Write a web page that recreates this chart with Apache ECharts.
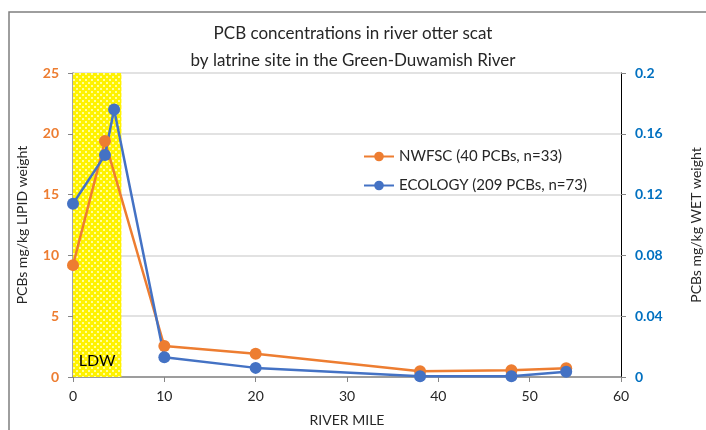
<!DOCTYPE html>
<html>
<head>
<meta charset="utf-8">
<script src="https://cdn.jsdelivr.net/npm/echarts@6/dist/echarts.min.js"></script>
<style>
  html, body { margin: 0; padding: 0; background: #fff; }
  #main { width: 706px; height: 430px; }
</style>
</head>
<body>
<div id="main"></div>
<script>
// river mile of each latrine site
var nwfscMiles = [0, 3.5, 10, 20, 38, 48, 54];
var nwfscLipid = [9.2, 19.4, 2.55, 1.92, 0.47, 0.55, 0.72];   // mg/kg lipid weight

var ecologyMiles = [0, 3.5, 4.5, 10, 20, 38, 48, 54];
var ecologyWet = [0.114, 0.146, 0.176, 0.013, 0.006, 0.0005, 0.0005, 0.0035]; // mg/kg wet weight

var ldwRange = [0, 5.3];

var ORANGE = '#ED7D31';
var BLUE = '#4472C4';
var FONT = 'Lato, "Open Sans", sans-serif';

function zip(a, b) {
  return a.map(function (v, i) { return [v, b[i]]; });
}

// checkered yellow fill like the excel pattern
function yellowPattern() {
  var c = document.createElement('canvas');
  c.width = 6; c.height = 6;
  var ctx = c.getContext('2d');
  ctx.fillStyle = '#FFF200';
  ctx.fillRect(0, 0, 6, 6);
  ctx.fillStyle = '#FFFF9A';
  ctx.fillRect(1, 1, 2, 2);
  ctx.fillRect(4, 4, 2, 2);
  return c;
}

var chart = echarts.init(document.getElementById('main'));

var option = {
  animation: false,
  backgroundColor: '#fff',
  graphic: [{
    type: 'rect',
    shape: { x: 9, y: 12, width: 720, height: 440 },
    style: { fill: 'none', stroke: '#7f7f7f', lineWidth: 1.5 },
    silent: true
  }],
  title: {
    text: 'PCB concentrations in river otter scat\nby latrine site in the Green-Duwamish River',
    left: 'center',
    top: 15,
    textStyle: { fontFamily: FONT, fontSize: 17, fontWeight: 'normal', color: '#262626', lineHeight: 27 }
  },
  legend: {
    orient: 'vertical',
    left: 358,
    top: 144,
    itemWidth: 30,
    itemHeight: 12,
    itemGap: 14,
    textStyle: { fontFamily: FONT, fontSize: 15, color: '#262626' },
    data: ['NWFSC (40 PCBs, n=33)', 'ECOLOGY (209 PCBs, n=73)']
  },
  grid: { left: 73, right: 85, top: 73, bottom: 53, outerBoundsMode: 'none' },
  xAxis: {
    type: 'value',
    min: 0, max: 60, interval: 10,
    name: 'RIVER MILE',
    nameLocation: 'middle',
    nameGap: 36,
    nameTextStyle: { fontFamily: FONT, fontSize: 14, color: '#262626' },
    axisLine: { lineStyle: { color: '#868686', width: 1.5 } },
    axisTick: { show: true, length: 5, lineStyle: { color: '#868686' } },
    axisLabel: { margin: 12, fontFamily: FONT, fontSize: 14, color: '#262626' },
    splitLine: { show: false }
  },
  yAxis: [{
    type: 'value',
    min: 0, max: 25, interval: 5,
    name: 'PCBs mg/kg LIPID weight',
    nameLocation: 'middle',
    nameGap: 44,
    nameRotate: 90,
    nameTextStyle: { fontFamily: FONT, fontSize: 14, color: '#262626' },
    axisLine: { show: true, lineStyle: { color: '#868686', width: 1.5 } },
    axisTick: { show: true, length: 5, lineStyle: { color: '#868686' } },
    axisLabel: { margin: 14, fontFamily: FONT, fontSize: 14, fontWeight: 'bold', color: ORANGE },
    splitLine: { lineStyle: { color: '#d9d9d9', width: 1.5 } }
  }, {
    type: 'value',
    min: 0, max: 0.2, interval: 0.04,
    name: 'PCBs mg/kg WET weight',
    nameLocation: 'middle',
    nameGap: 68,
    nameRotate: 90,
    nameTextStyle: { fontFamily: FONT, fontSize: 14, color: '#262626' },
    axisLine: { show: true, lineStyle: { color: '#000', width: 1 } },
    axisTick: { show: true, length: 5, lineStyle: { color: '#868686' } },
    axisLabel: { margin: 14, fontFamily: FONT, fontSize: 14, fontWeight: 'bold', color: '#0070C0' },
    splitLine: { show: false }
  }],
  series: [{
    name: 'NWFSC (40 PCBs, n=33)',
    type: 'line',
    yAxisIndex: 0,
    data: zip(nwfscMiles, nwfscLipid),
    symbol: 'circle',
    symbolSize: 12,
    color: ORANGE,
    lineStyle: { width: 2.5, color: ORANGE },
    markArea: {
      silent: true,
      itemStyle: { color: { image: yellowPattern(), repeat: 'repeat' } },
      label: {
        show: true, position: 'insideBottom', distance: 8,
        fontFamily: FONT, fontSize: 16, color: '#000'
      },
      data: [[{ xAxis: ldwRange[0], name: 'LDW' }, { xAxis: ldwRange[1] }]]
    }
  }, {
    name: 'ECOLOGY (209 PCBs, n=73)',
    type: 'line',
    yAxisIndex: 1,
    data: zip(ecologyMiles, ecologyWet),
    symbol: 'circle',
    symbolSize: 12,
    color: BLUE,
    lineStyle: { width: 2.5, color: BLUE }
  }]
};

chart.setOption(option);
</script>
</body>
</html>
